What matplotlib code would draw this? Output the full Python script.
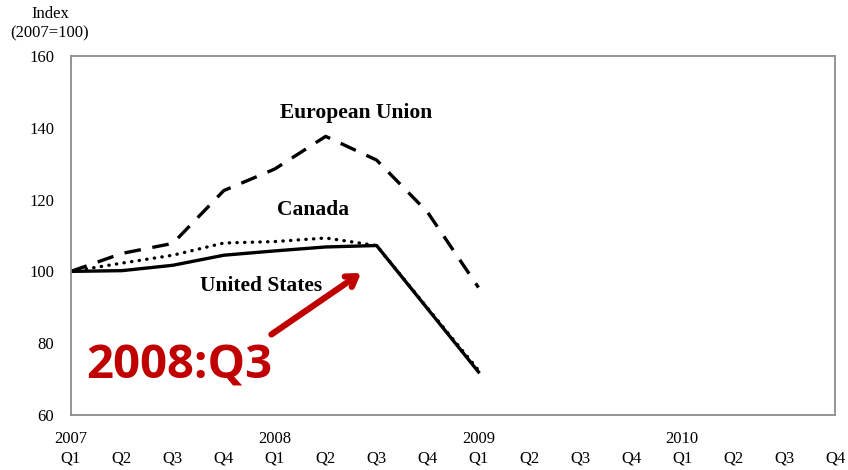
import numpy as np
import matplotlib.pyplot as plt

# Quarterly index values, 2007 Q1 = 100
quarters = ["Q1", "Q2", "Q3", "Q4"] * 4
years = ["2007", "2008", "2009", "2010"]
eu = [100, 105, 107.8, 122.5, 128.5, 137.6, 131, 116.5, 95.5]
canada = [100, 102.3, 104.5, 107.9, 108.3, 109.3, 107.2, 89.8, 72.5]
us = [100, 100.2, 101.7, 104.5, 105.7, 106.8, 107.2, 89.6, 72]

x = np.arange(len(eu))

fig = plt.figure(figsize=(8.48, 4.70), dpi=100)
ax = fig.add_axes([0.0837, 0.117, 0.901, 0.764])
serif = "Liberation Serif"

ax.plot(x, eu, color="black", lw=2.4, linestyle=(0, (5, 3.5)))
ax.plot(x, canada, color="black", lw=2.4, linestyle=(0, (0.1, 2.2)), dash_capstyle="round")
ax.plot(x, us, color="black", lw=2.4)

ax.set_xlim(0, 15)
ax.set_ylim(60, 160)
ax.set_yticks(np.arange(60, 161, 20))
ax.set_yticklabels([str(v) for v in range(60, 161, 20)], fontfamily=serif, fontsize=12)
ax.set_xticks(np.arange(16))
ax.set_xticklabels([])
ax.tick_params(length=0, pad=12)
for s in ax.spines.values():
    s.set_color("#8c8c8c")
    s.set_linewidth(1.3)

# two-row category axis: quarters and years
for i, q in enumerate(quarters):
    ax.text(i, -0.12, q, transform=ax.get_xaxis_transform(), ha="center", va="center",
            fontfamily=serif, fontsize=12)
for j, yr in enumerate(years):
    ax.text(j * 4, -0.068, yr, transform=ax.get_xaxis_transform(), ha="center", va="center",
            fontfamily=serif, fontsize=12)

fig.text(50 / 848, 1 - 14 / 470, "Index", ha="center", va="center", fontfamily=serif, fontsize=12)
fig.text(50 / 848, 1 - 33 / 470, "(2007=100)", ha="center", va="center", fontfamily=serif, fontsize=12)

ax.text(5.6, 144.2, "European Union", ha="center", va="center", fontfamily=serif,
        fontsize=15.5, fontweight="bold")
ax.text(4.75, 117.2, "Canada", ha="center", va="center", fontfamily=serif,
        fontsize=15.5, fontweight="bold")
ax.text(3.73, 96.0, "United States", ha="center", va="center", fontfamily=serif,
        fontsize=15.5, fontweight="bold")

ax.annotate("", xy=(5.74, 100), xytext=(3.89, 82),
            arrowprops=dict(arrowstyle="->,head_length=0.7,head_width=0.45", color="#c00000", lw=4.5))
ax.text(0.3, 73.6, "2008:Q3", ha="left", va="center", fontfamily="Open Sans",
        fontsize=34, fontweight="bold", color="#c00000")

fig.savefig("out.png", dpi=100)
